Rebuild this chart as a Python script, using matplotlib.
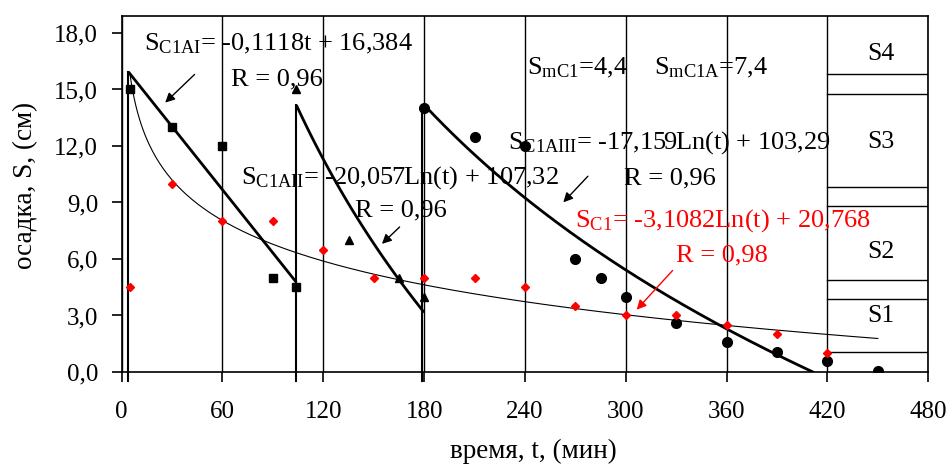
import numpy as np
import matplotlib
matplotlib.use("Agg")
import matplotlib.pyplot as plt

plt.rcParams['font.family'] = ['Liberation Serif', 'DejaVu Serif']
plt.rcParams['mathtext.fontset'] = 'custom'
plt.rcParams['mathtext.rm'] = 'Liberation Serif'
plt.rcParams['mathtext.it'] = 'Liberation Serif:italic'

t_sq = [5, 30, 60, 90, 104]
s_sq = [15.0, 13.0, 12.0, 5.0, 4.5]
t_tri = [104, 135, 165, 180]
s_tri = [15.0, 7.0, 5.0, 4.0]
t_circ = [180, 210, 240, 270, 285, 300, 330, 360, 390, 420, 450]
s_circ = [14.0, 12.5, 12.0, 6.0, 5.0, 4.0, 2.6, 1.6, 1.05, 0.6, 0.05]
t_red = [5, 30, 60, 90, 120, 150, 180, 210, 240, 270, 300, 330, 360, 390, 420]
s_red = [4.5, 10.0, 8.0, 8.0, 6.5, 5.0, 5.0, 5.0, 4.5, 3.5, 3.0, 3.0, 2.5, 2.0, 1.0]

# trend lines, coefficients as printed on the chart
lin_I = (-0.1118, 16.384)        # S = a*t + b
log_II = (-20.057, 107.32)       # S = a*ln(t) + b
log_III = (-17.159, 103.29)
log_C1 = (-3.1082, 20.768)
range_I = (4, 104)
range_II = (104, 180)
range_III = (180, 412)
range_C1 = (5, 450)
t_jump = [4, 104, 179]

# S1..S4 column on the right
band_y = [15.8, 14.75, 9.8, 8.8, 4.9, 3.9, 1.05]
band_names = ['S4', 'S3', 'S2', 'S1']
band_label_y = [16.9, 12.2, 6.35, 2.95]

xticks = [0, 60, 120, 180, 240, 300, 360, 420, 480]
yticks = [0, 3, 6, 9, 12, 15, 18]
ytick_labels = ['0,0', '3,0', '6,0', '9,0', '12,0', '15,0', '18,0']

fig = plt.figure(figsize=(9.52, 4.65), dpi=100)
ax = fig.add_axes([0.1278, 0.2, 0.8472, 0.7656])

fs = 19      # annotations
fs_tick = 18
fs_lab = 19.5

# trend curves
t1 = np.linspace(*range_I, 50)
s1 = lin_I[0] * t1 + lin_I[1]
t2 = np.linspace(*range_II, 100)
s2 = log_II[0] * np.log(t2) + log_II[1]
t3 = np.linspace(*range_III, 200)
s3 = log_III[0] * np.log(t3) + log_III[1]
tc = np.linspace(*range_C1, 400)
sc = log_C1[0] * np.log(tc) + log_C1[1]

ax.plot(tc, sc, color='black', lw=0.8, zorder=3)
ax.plot(t1, s1, color='black', lw=2.0, zorder=3, solid_capstyle='butt')
ax.plot(t2, s2, color='black', lw=2.0, zorder=3, solid_capstyle='butt')
ax.plot(t3, s3, color='black', lw=2.0, zorder=3, solid_capstyle='butt')

# vertical jumps of the sawtooth
tops = [s1[0], s2[0], s3[0]]
for tj, top in zip(t_jump, tops):
    ax.plot([tj, tj], [-0.5, top], color='black', lw=1.5, zorder=3, clip_on=False)

# markers
ax.plot(t_sq, s_sq, 's', color='black', ms=6, zorder=4)
ax.plot(t_tri, s_tri, '^', color='black', ms=6, zorder=4)
ax.plot(t_circ, s_circ, 'o', color='black', ms=7, zorder=4)
ax.plot(t_red, s_red, 'D', color='red', ms=4.5, zorder=5)

# S bands
for y in band_y:
    ax.plot([420, 480], [y, y], color='black', lw=1, zorder=2)
for name, y in zip(band_names, band_label_y):
    ax.text(452, y, name, fontsize=18.5, ha='center', va='center')

# annotations
ax.text(13.5, 17.4, r'S$_{\mathrm{C1AI}}$= -0,1118t + 16,384', fontsize=fs, va='center')
ax.text(65, 15.55, 'R = 0,96', fontsize=fs, va='center')
ax.annotate('', xy=(24.7, 14.2), xytext=(44.6, 15.9),
            arrowprops=dict(arrowstyle='-|>', color='black', lw=1, mutation_scale=14))

ax.text(71, 10.3, r'S$_{\mathrm{C1AII}}$= -20,057Ln(t) + 107,32', fontsize=fs, va='center')
ax.text(139, 8.55, 'R = 0,96', fontsize=fs, va='center')
ax.annotate('', xy=(153.7, 6.7), xytext=(166.6, 7.8),
            arrowprops=dict(arrowstyle='-|>', color='black', lw=1, mutation_scale=14))

ax.text(241, 16.15, r'S$_{\mathrm{mC1}}$=4,4', fontsize=fs, va='center')
ax.text(317, 16.15, r'S$_{\mathrm{mC1A}}$=7,4', fontsize=fs, va='center')

ax.text(230, 12.2, r'S$_{\mathrm{C1AIII}}$= -17,159Ln(t) + 103,29', fontsize=fs, va='center')
ax.text(299, 10.3, 'R = 0,96', fontsize=fs, va='center')
ax.annotate('', xy=(261.7, 8.9), xytext=(278.6, 10.5),
            arrowprops=dict(arrowstyle='-|>', color='black', lw=1, mutation_scale=14))

ax.text(270, 8.05, r'S$_{\mathrm{C1}}$= -3,1082Ln(t) + 20,768', fontsize=fs, va='center', color='red')
ax.text(330, 6.2, 'R = 0,98', fontsize=fs, va='center', color='red')
ax.annotate('', xy=(305.4, 3.2), xytext=(329, 5.5),
            arrowprops=dict(arrowstyle='-|>', color='red', lw=1, mutation_scale=14))

# axes
ax.set_xlim(0, 480)
ax.set_ylim(0, 18.9)
ax.set_xticks(xticks)
ax.set_xticklabels([str(v) for v in xticks])
ax.set_yticks(yticks)
ax.set_yticklabels(ytick_labels)
ax.tick_params(direction='out', length=7, width=1.2, labelsize=fs_tick, colors='black')
ax.tick_params(axis='x', pad=14)
ax.tick_params(axis='y', pad=10)
ax.grid(axis='x', color='black', lw=1.0)
for sp in ax.spines.values():
    sp.set_linewidth(1.2)
    sp.set_color('black')

ax.set_xlabel('время, t, (мин)', fontsize=fs_lab)
ax.set_ylabel('осадка, S, (см)', fontsize=fs_lab)
ax.xaxis.label.set_va('center')
ax.yaxis.label.set_va('center')
ax.xaxis.set_label_coords(0.51, -0.222)
ax.yaxis.set_label_coords(-0.1187, 0.525)

fig.savefig('out.png', dpi=100)
